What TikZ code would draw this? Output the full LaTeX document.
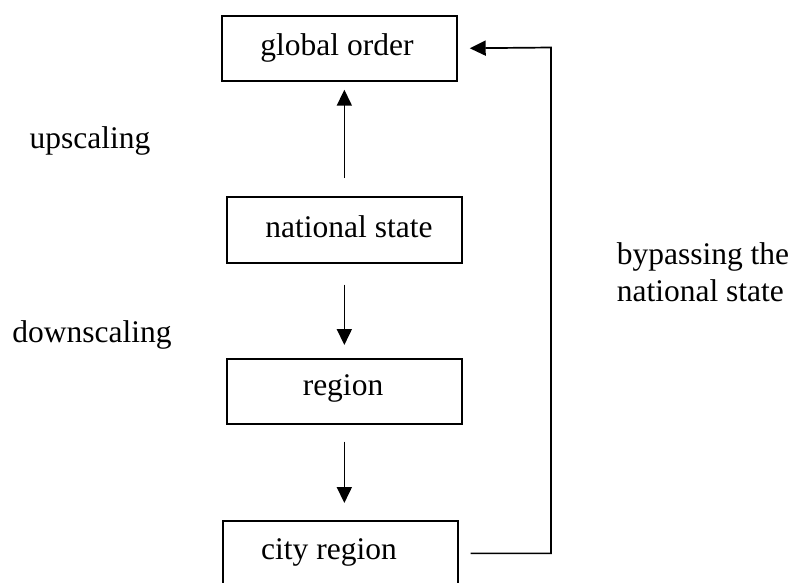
\documentclass[tikz,border=0pt]{standalone}
\usepackage{fontspec}
\setmainfont{Liberation Serif}
\usetikzlibrary{arrows.meta}
\begin{document}
\begin{tikzpicture}[x=1pt,y=-1pt, line width=1.7pt,
  box/.style={draw, minimum width=235pt, minimum height=65pt, inner sep=0pt, anchor=north west},
  lbl/.style={font=\fontsize{31.5}{37}\selectfont, anchor=base, inner sep=0pt},
  arr/.style={-{Triangle[width=15pt,length=16pt]}}]
\useasboundingbox (0,0) rectangle (792,582);
\clip (0,0) rectangle (792,582);
% boxes
\node[box] (g) at (221,15) {};
\node[box, minimum height=66pt] (n) at (226,196) {};
\node[box] (r) at (226,358) {};
\node[box] (c) at (222,520) {};
% box texts
\node[lbl] (gt) at (337,55) {global order};
\node[lbl] (nt) at (349,237) {national state};
\node[lbl] (rt) at (343,395) {region};
\node[lbl] (ct) at (329,559) {city region};
% side labels
\node[lbl] (up) at (90,148) {upscaling};
\node[lbl] (down) at (92,342) {downscaling};
\node[lbl, anchor=base west, align=left] (bypass) at (616,301) {bypassing the\\national state};
% arrows
\draw[arr, shorten <=18pt, shorten >=8pt] (n.north) -- (n.north |- g.south);
\draw[arr, shorten <=21pt, shorten >=13pt] (n.south) -- (n.south |- r.north);
\draw[arr, shorten <=17pt, shorten >=17pt] (r.south) -- (r.south |- c.north);
\coordinate (bp) at (551,47.5);
\draw[arr, shorten <=12pt, shorten >=12pt] (c.east) -| (bp) -- (g.east);
\end{tikzpicture}
\end{document}
